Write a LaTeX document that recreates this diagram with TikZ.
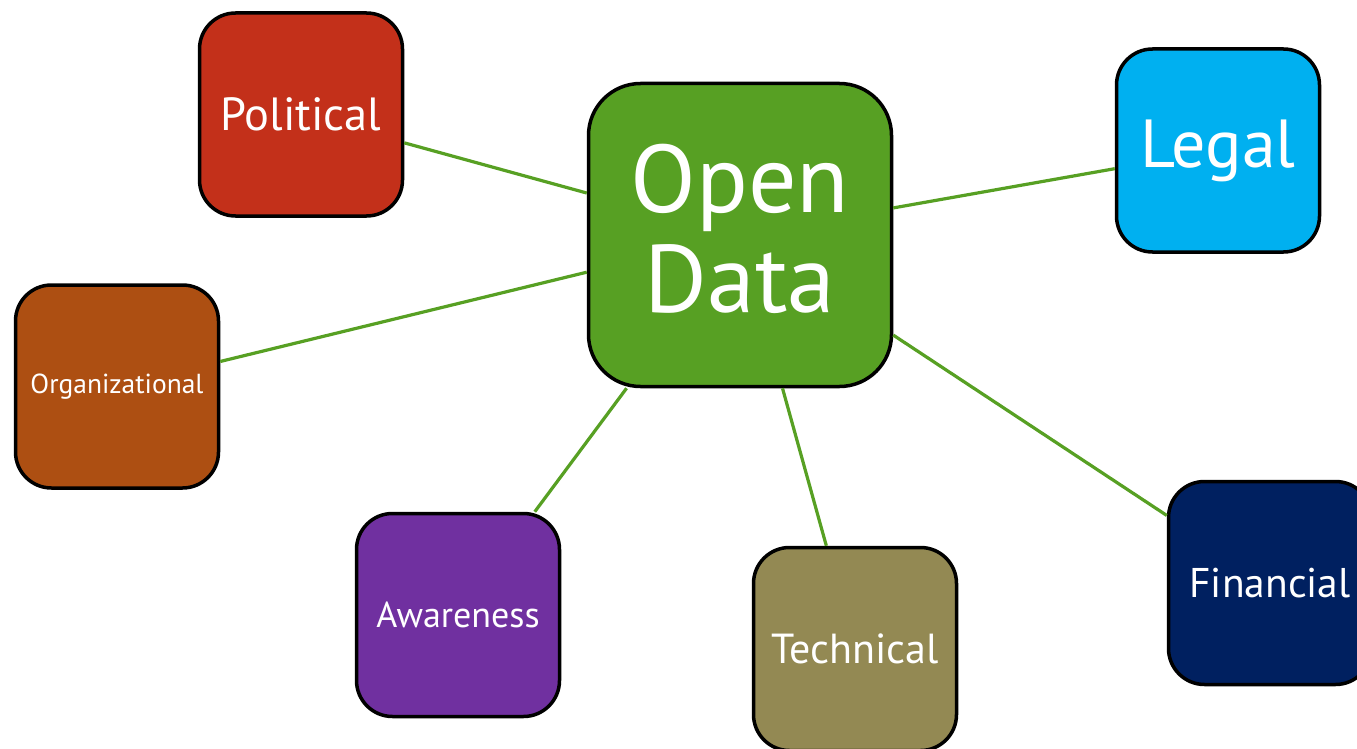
\documentclass[tikz,border=0pt]{standalone}
\usepackage{fontspec}
\setmainfont{PT Sans}
\definecolor{polc}{RGB}{195,48,26}
\definecolor{orgc}{RGB}{173,79,18}
\definecolor{awc}{RGB}{112,48,160}
\definecolor{techc}{RGB}{147,137,83}
\definecolor{finc}{RGB}{0,32,96}
\definecolor{legc}{RGB}{0,176,240}
\definecolor{odc}{RGB}{87,160,35}
\tikzset{
  box/.style={draw=black, line width=3.5pt, rounded corners=36pt, minimum width=203pt, minimum height=203pt, inner sep=0pt, text=white, align=center},
  bigbox/.style={box, minimum width=303pt, minimum height=303pt, rounded corners=52pt},
  link/.style={draw=odc, line width=3.2pt}
}
\begin{document}
\begin{tikzpicture}[x=1pt,y=-1pt]
\fill[white] (0,0) rectangle (1357,749);
\useasboundingbox (0,0) rectangle (1357,749);
\node[bigbox, fill=odc] (od) at (740,235) {};
\node[font=\fontsize{96}{100}\selectfont, text=white, align=center, inner sep=0pt] (odt) at (740,229) {Open\\Data};
\node[box, fill=polc, font=\fontsize{46.5}{50}\selectfont] (pol) at (301,114.5) {Political};
\node[box, fill=legc, font=\fontsize{68}{70}\selectfont] (leg) at (1218,150.5) {Legal};
\node[box, fill=orgc, font=\fontsize{27.5}{30}\selectfont] (org) at (117,386.5) {Organizational};
\node[box, fill=awc, font=\fontsize{36}{40}\selectfont] (aw) at (458,615) {Awareness};
\node[box, fill=techc, font=\fontsize{42}{44}\selectfont] (tech) at (855,649) {Technical};
\node[box, fill=finc, font=\fontsize{41.5}{44}\selectfont] (fin) at (1270,583) {Financial};
\draw[link] (pol) -- (od);
\draw[link] (org) -- (od);
\draw[link] (aw) -- (od);
\draw[link] (tech) -- (od);
\draw[link] (fin) -- (od);
\draw[link] (leg) -- (od);
\end{tikzpicture}
\end{document}
